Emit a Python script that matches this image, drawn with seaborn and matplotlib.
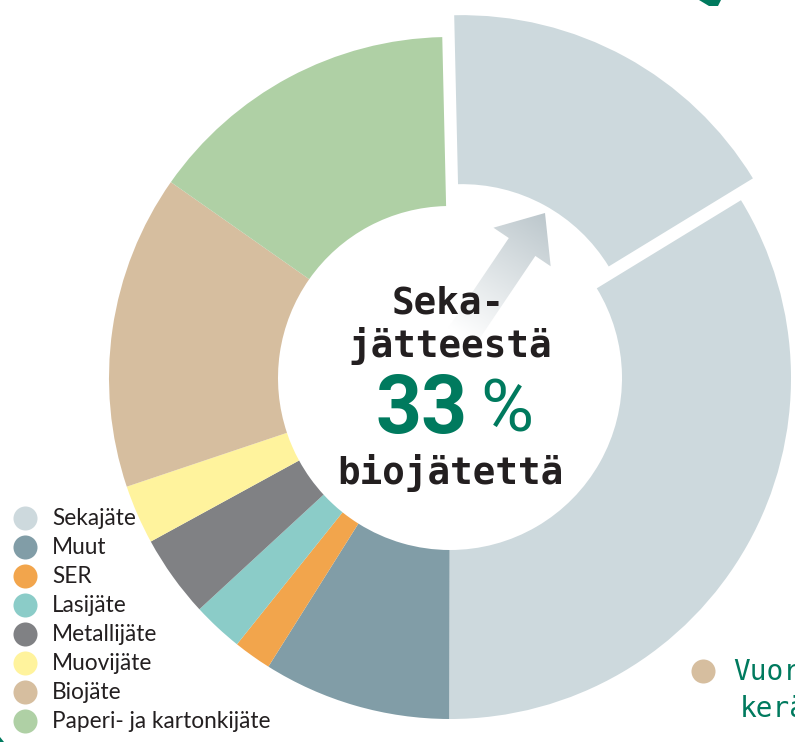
"""
plot.py
Sekajätteen koostumus: donitsikaavio, josta biojätteen osuus irrotettu.
"""

import numpy as np
import matplotlib
matplotlib.use("Agg")
import matplotlib.pyplot as plt
from matplotlib.patches import FancyArrow, Polygon
from matplotlib.colors import LinearSegmentedColormap
import seaborn as sns

# ---- data (osuudet %, kaavion järjestyksessä myötäpäivään) ----
categories = ['Sekajäte', 'Muut', 'SER', 'Lasijäte', 'Metallijäte',
              'Muovijäte', 'Biojäte', 'Paperi- ja kartonkijäte']
shares = [50.4, 8.9, 1.8, 2.4, 3.9, 2.8, 14.9, 14.9]
bio_share_of_mixed = 0.33          # sekajätteestä biojätettä
colors = ['#CDD9DD', '#819DA7', '#F2A54C', '#8BCCC8', '#808184',
          '#FFF39D', '#D6BE9F', '#AFD0A5']
green = '#007A5E'
dark = '#231F20'

sns.set_theme(style="white")
palette = sns.color_palette(colors)

fig = plt.figure(figsize=(7.95, 7.42), dpi=100)
ax = fig.add_axes([0, 0, 1, 1])

# Sekajäte split into biowaste part (exploded) + rest
R_OUT, R_IN = 341, 172
cx, cy = 450, 364
mixed = shares[0]
pie_values = [mixed * bio_share_of_mixed, mixed * (1 - bio_share_of_mixed)] + shares[1:]
pie_colors = [palette[0], palette[0]] + list(palette[1:])
explode = [0.073 * R_OUT] + [0] * (len(pie_values) - 1)   # pie explode is in data units

ax.pie(pie_values, colors=pie_colors, explode=explode, startangle=91.3,
       counterclock=False, radius=R_OUT, center=(cx, cy),
       wedgeprops=dict(width=R_OUT - R_IN, linewidth=0))

# gradient arrow pointing to the exploded slice
tip = np.array([545, 529])
ang = np.deg2rad(56)
u = np.array([np.cos(ang), np.sin(ang)])
L = 150
tail = tip - L * u
arrow = FancyArrow(tail[0], tail[1], *(L * u), width=32, head_width=69,
                   head_length=41, length_includes_head=True,
                   facecolor='none', edgecolor='none')
ax.add_patch(arrow)
gx, gy = np.meshgrid(np.linspace(tail[0] - 60, tip[0] + 60, 200),
                     np.linspace(tail[1] - 60, tip[1] + 60, 200))
t = ((gx - tail[0]) * u[0] + (gy - tail[1]) * u[1]) / L
grad_cmap = LinearSegmentedColormap.from_list('fade', ['#FFFFFF', '#BCC7CC'])
img = ax.imshow(np.clip(t, 0, 1), cmap=grad_cmap, origin='lower',
                extent=[tail[0] - 60, tip[0] + 60, tail[1] - 60, tip[1] + 60],
                aspect='auto', zorder=2, interpolation='bilinear')
img.set_clip_path(arrow)

# center text
mono = ['DejaVu Sans Mono']
ax.text(448, 429, 'Seka-', ha='center', va='baseline', fontsize=27,
        fontweight='bold', family=mono, color=dark, zorder=3)
ax.text(450, 385, 'jätteestä', ha='center', va='baseline', fontsize=27,
        fontweight='bold', family=mono, color=dark, zorder=3)
ax.text(468, 309, '33', ha='right', va='baseline', fontsize=58,
        fontweight='bold', family=['Roboto', 'DejaVu Sans'], color=green, zorder=3)
ax.text(480, 311, '%', ha='left', va='baseline', fontsize=52,
        family=['Roboto', 'DejaVu Sans'], color=green, zorder=3)
ax.text(450, 258, 'biojätettä', ha='center', va='baseline', fontsize=27,
        fontweight='bold', family=mono, color=dark, zorder=3)

# legend (bottom left)
leg_y = 742 - 518
step = 29
for i, (lab, col) in enumerate(zip(categories, palette)):
    y = leg_y - i * step
    ax.scatter([25], [y], s=24 ** 2 * 0.52, color=col, linewidths=0, zorder=4)
    ax.text(52, y - 7, lab, ha='left', va='baseline', fontsize=16.3,
            family=['Lato', 'DejaVu Sans'], color=dark, zorder=4)

# partial caption at bottom right (cut by the edge as in the source)
ax.scatter([703], [742 - 671], s=24 ** 2 * 0.52, color=palette[6], linewidths=0)
ax.text(733, 742 - 680, 'Vuor', ha='left', va='baseline', fontsize=20,
        family=mono, color=green)
ax.text(740, 742 - 717, 'kerä', ha='left', va='baseline', fontsize=20,
        family=mono, color=green)

# decorative fragments at the edges
ax.add_patch(Polygon([(699, 742), (721, 742), (718, 736), (709, 736)],
                     closed=True, facecolor=green, edgecolor='none'))
ax.add_patch(Polygon([(0, 0), (4, 0), (0, 5)], closed=True,
                     facecolor=green, edgecolor='none'))

ax.set_xlim(0, 795)
ax.set_ylim(0, 742)
ax.set_aspect('equal')
ax.axis('off')

fig.savefig('out.png', dpi=100, facecolor='white')
